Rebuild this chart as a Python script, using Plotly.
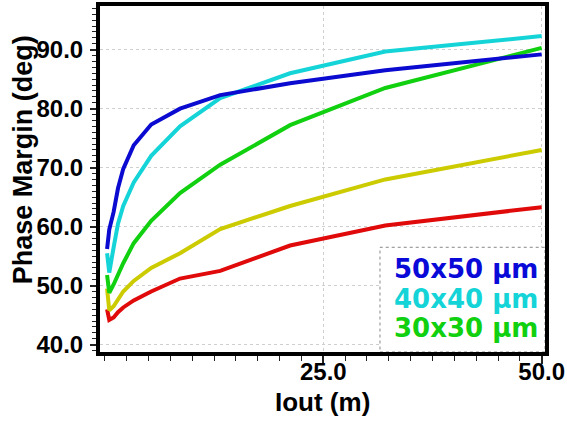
import plotly.graph_objects as go

iout = [0.25, 0.5, 1.0, 1.5, 2.1, 3.3, 5.3, 8.6, 13.2, 21.2, 32.1, 50.0]
pm_50 = [56.2, 59.5, 62.5, 66.5, 69.8, 73.8, 77.3, 80.0, 82.3, 84.3, 86.5, 89.2]
pm_40 = [55.5, 52.2, 56.5, 60.5, 63.5, 67.5, 72.0, 77.0, 81.8, 86.0, 89.7, 92.3]
pm_30 = [51.8, 48.8, 50.2, 52.0, 53.8, 57.2, 61.0, 65.7, 70.5, 77.2, 83.5, 90.3]
pm_y = [49.5, 45.8, 46.5, 47.7, 49.0, 50.8, 53.0, 55.5, 59.6, 63.5, 68.0, 73.0]
pm_r = [46.0, 44.2, 44.6, 45.5, 46.3, 47.5, 49.0, 51.2, 52.5, 56.8, 60.2, 63.3]

series = [
    ("red", pm_r, "#e00a0a"),
    ("yellow", pm_y, "#cccb00"),
    ("30x30 µm", pm_30, "#10d010"),
    ("40x40 µm", pm_40, "#14d4d8"),
    ("50x50 µm", pm_50, "#0a0ad0"),
]
legend_items = [("50x50 µm", "#0a0ad8"), ("40x40 µm", "#14d4d8"), ("30x30 µm", "#10d010")]

x_ticks = [25.0, 50.0]
x_ticktext = ["25.0", "50.0"]
xrange_ = [-0.56, 50.38]
yrange_ = [38.75, 97.4]

fig = go.Figure()
for name, ys, col in series:
    fig.add_trace(go.Scatter(x=iout, y=ys, mode="lines", name=name,
                             line=dict(color=col, width=4), showlegend=False))

font_tick = dict(family="Liberation Sans", size=24, color="black", weight="bold")
fig.update_layout(
    width=567, height=423,
    margin=dict(l=100, r=22, t=2, b=71),
    paper_bgcolor="white", plot_bgcolor="white",
    showlegend=False,
    font=dict(family="Liberation Sans"),
)
fig.update_xaxes(
    range=xrange_, tickmode="array", tickvals=x_ticks, ticktext=x_ticktext,
    ticks="outside", ticklen=8, tickwidth=1.5, tickcolor="#222",
    tickfont=font_tick, ticklabelstandoff=-13,
    showgrid=True, gridcolor="#cfcfcf", griddash="dot", gridwidth=1,
    showline=True, linecolor="black", linewidth=4, mirror=True,
    zeroline=False,
    minor=dict(tick0=0, dtick=2.5, ticks="outside", ticklen=5, tickwidth=1.2, tickcolor="#222", showgrid=False),
)
fig.update_yaxes(
    range=yrange_, tick0=40, dtick=10, tickformat=".1f",
    ticks="outside", ticklen=6, tickwidth=1.5, tickcolor="#222",
    tickfont=font_tick, ticklabelstandoff=2,
    showgrid=True, gridcolor="#cfcfcf", griddash="dot", gridwidth=1,
    showline=True, linecolor="black", linewidth=4, mirror=True,
    zeroline=False,
    minor=dict(tick0=40, dtick=1, ticks="outside", ticklen=4, tickwidth=1.2, tickcolor="#222", showgrid=False),
)

# legend box
fig.add_shape(type="rect", xref="x", yref="y", x0=31.49, x1=xrange_[1], y0=yrange_[0], y1=56.5,
              line=dict(color="#888", width=1, dash="dot"), fillcolor="white", layer="between")
for i, (txt, col) in enumerate(legend_items):
    fig.add_annotation(xref="paper", yref="paper", x=(392 - 100) / 445, xanchor="left",
                       y=1 - (268 + 30 * i - 2) / 350, yanchor="middle",
                       text="<b>%s</b>" % txt, showarrow=False,
                       font=dict(family="DejaVu Sans", size=26, color=col))

fig.add_annotation(xref="paper", yref="paper", x=0.5, xanchor="center",
                   y=1 - (403 - 2) / 350, yanchor="middle", text="<b>Iout (m)</b>",
                   showarrow=False, font=dict(family="Liberation Sans", size=26, color="black"))
fig.add_annotation(xref="paper", yref="paper", x=(23 - 100) / 445, xanchor="center",
                   y=1 - (158 - 2) / 350, yanchor="middle", text="<b>Phase Margin (deg)</b>",
                   textangle=-90, showarrow=False,
                   font=dict(family="Liberation Sans", size=27, color="black"))

fig.write_html("out.html")
